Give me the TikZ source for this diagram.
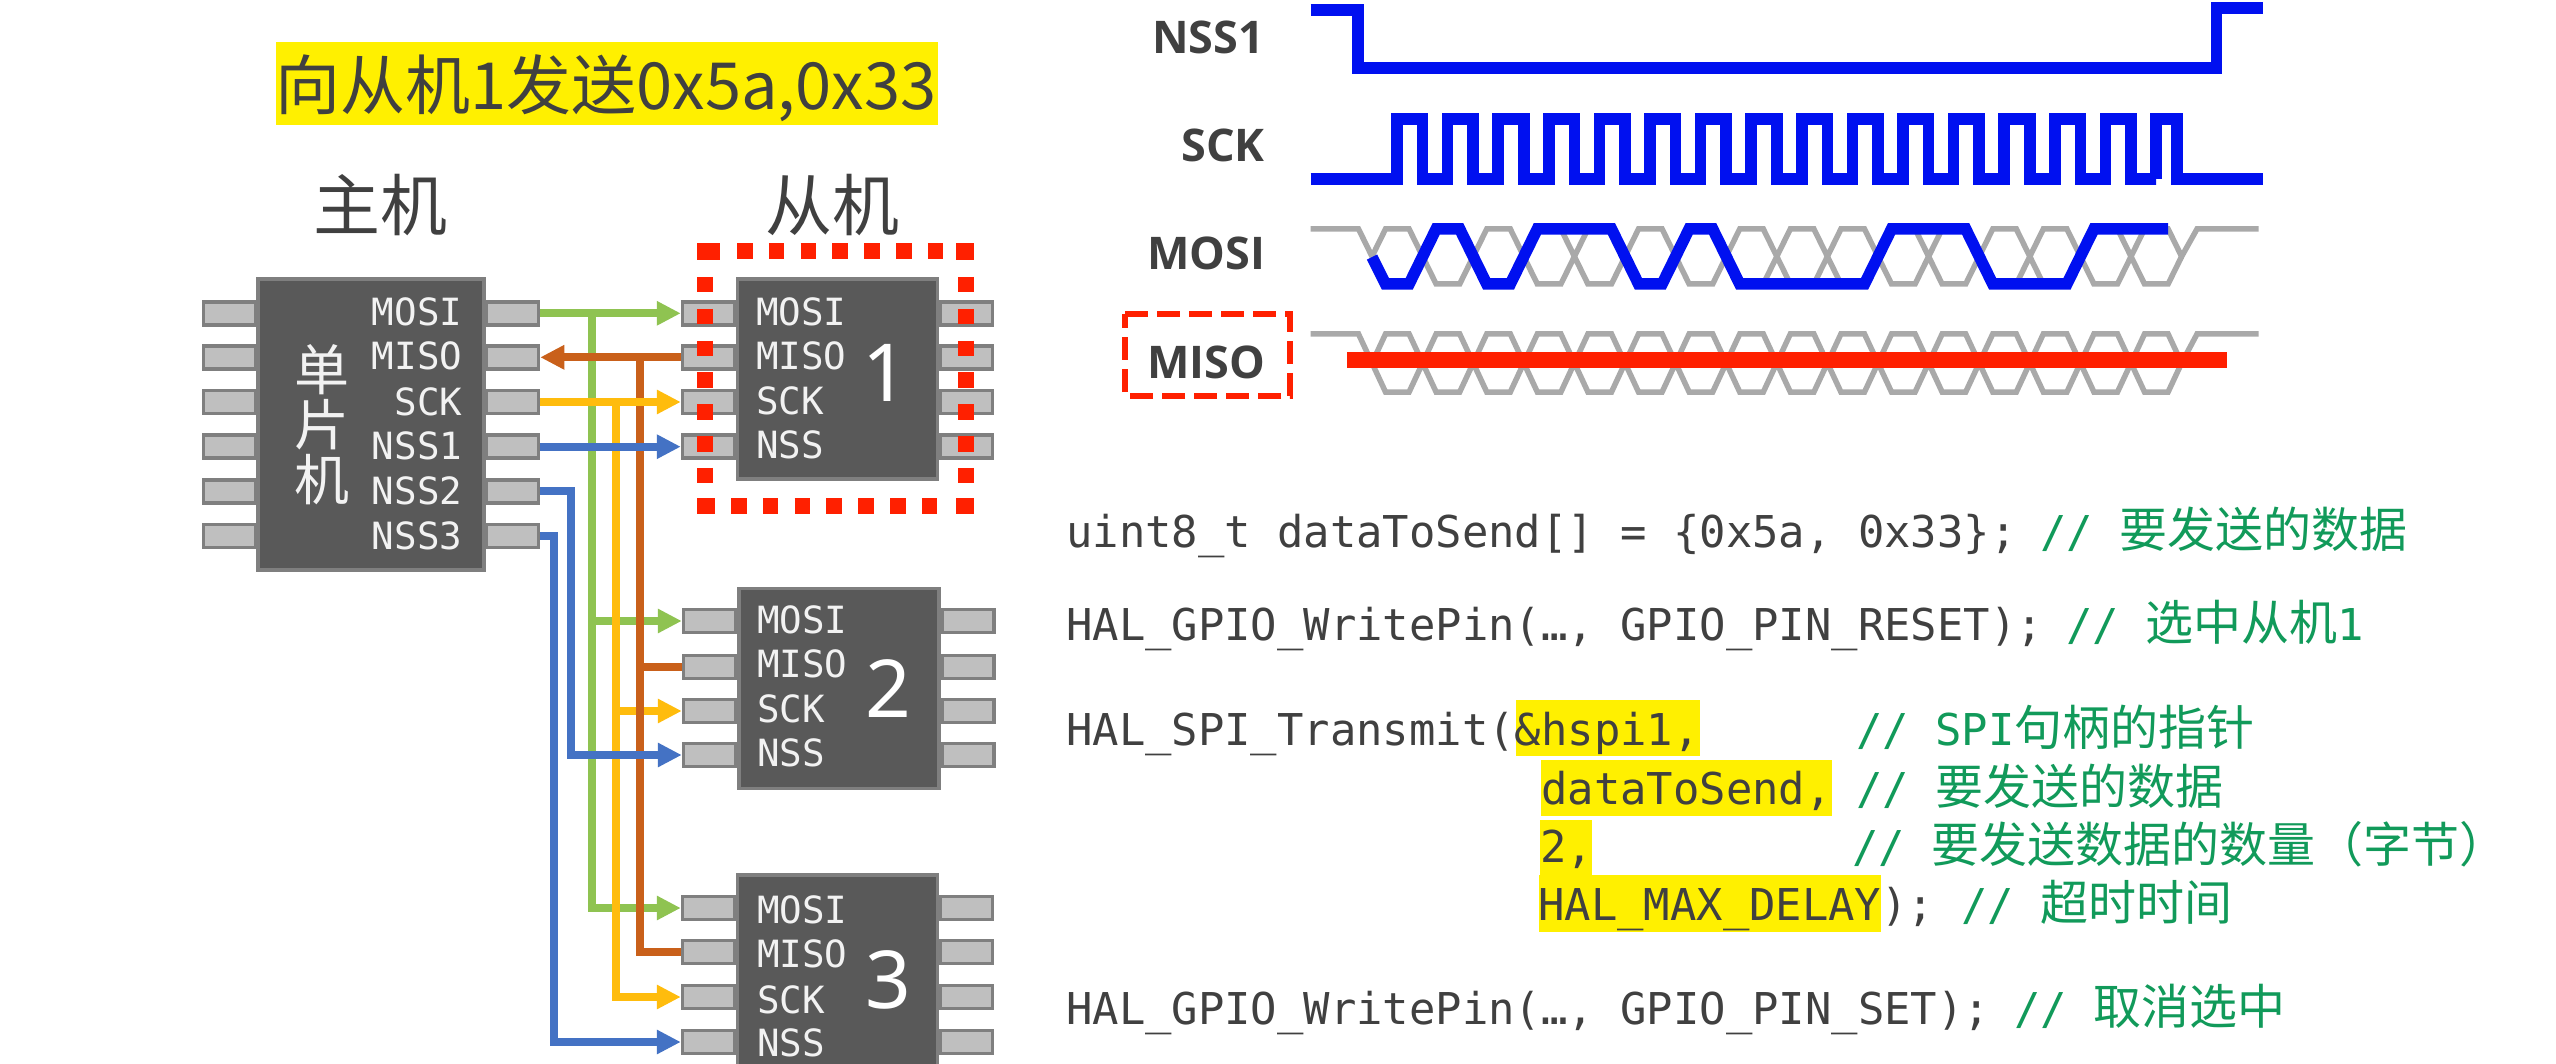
\documentclass[tikz,border=0pt]{standalone}
\usepackage{fontspec}
\usetikzlibrary{arrows.meta}
\setmainfont{Noto Sans}
\newfontfamily\cjkf{Noto Sans CJK SC}
\newfontfamily\monof{DejaVu Sans Mono}
\newfontfamily\labf{Open Sans}
\newcommand\fsz[1]{\fontsize{#1}{#1}\selectfont}
\newcommand\mf{\monof\frenchspacing\fsz{43.85}}
\newcommand\cm[1]{{\cjkf\fsz{48}#1}}
\definecolor{chipfill}{HTML}{595959}
\definecolor{chipline}{HTML}{7F7F7F}
\definecolor{pinfill}{HTML}{BFBFBF}
\definecolor{cgreen}{HTML}{8FC351}
\definecolor{cbrown}{HTML}{C9601A}
\definecolor{cyellow}{HTML}{FFBC0D}
\definecolor{cblue}{HTML}{4472C4}
\definecolor{hl}{HTML}{FFF000}
\definecolor{txt}{HTML}{404040}
\definecolor{cmt}{HTML}{119A5A}
\definecolor{wblue}{HTML}{0010F0}
\definecolor{wgray}{HTML}{A9A9A9}
\definecolor{wred}{HTML}{FF2000}
\tikzset{
  chipbox/.style={draw=chipline,fill=chipfill,line width=3.5pt,inner sep=0pt,minimum width=#1,minimum height=200pt},
  pinbox/.style={draw=chipline,fill=pinfill,line width=3.5pt,inner sep=0pt,minimum width=52pt,minimum height=23pt},
  chiplab/.style={font=\monof\fsz{37.5},text=white!95!black,inner sep=0pt,anchor=base west},
  chiplabr/.style={font=\monof\fsz{37.5},text=white!95!black,inner sep=0pt,anchor=base east},
  chipnum/.style={font=\fsz{80},text=white,inner sep=0pt,anchor=base},
  head/.style={font=\cjkf\fsz{67},text=txt,inner sep=0pt,anchor=base},
  titletext/.style={font=\cjkf\fsz{65},text=txt,inner sep=0pt,anchor=base},
  wavelab/.style={font=\labf\bfseries\fsz{45},text=txt,inner sep=0pt,anchor=base west},
  code/.style={font=\mf,text=txt,inner sep=0pt,anchor=base west},
  note/.style={font=\mf,text=cmt,inner sep=0pt,anchor=base west},
  wire/.style={line width=8pt,line join=miter},
  tip/.style={-{Triangle[length=24pt,width=23pt]}},
  wavebold/.style={draw=wblue,line width=11.5pt,line join=miter,line cap=butt},
  wavethin/.style={draw=wgray,line width=5.5pt,line join=miter},
  hlbox/.style={fill=hl,draw=none},
  selectdash/.style={draw=wred,line width=16pt,dash pattern=on 15.5pt off 16.3pt},
  selectcorner/.style={fill=wred,draw=none},
}
\newcommand\grayrow[3]{%
  \draw[wavethin] (1310.5,#1) -- (1358.5,#1) -- (1372,#3);
  \draw[wavethin] (1372,#3) foreach \k in {0,...,15} {-- ({1385.5+50.6*\k},#1) -- ({1409.1+50.6*\k},#1) -- ({1422.6+50.6*\k},#3)} -- (2197,#1) -- (2258.7,#1);
  \draw[wavethin] (1372,#3) foreach \k in {0,...,15} {-- ({1385.5+50.6*\k},#2) -- ({1409.1+50.6*\k},#2) -- ({1422.6+50.6*\k},#3)};
}
\begin{document}
\begin{tikzpicture}[x=1pt,y=-1pt]
\useasboundingbox (0,0) rectangle (2556,1064);
\clip (0,0) rectangle (2556,1064);
\fill[white] (0,0) rectangle (2556,1064);

% Title and headers
\fill[hlbox] (276,41.7) rectangle (938,125);
\node[titletext] (title) at (606,110) {向从机1发送0x5a,0x33};
\node[head] (hm) at (380.5,231) {主机};
\node[head] (hs) at (832.5,231) {从机};

% Master pins
\foreach \n/\y in {1/313.3,2/357.3,3/402,4/446.7,5/491.3,6/536}{
  \node[pinbox] (ml\n) at (229.5,\y) {};
  \node[pinbox] (mr\n) at (512.5,\y) {};
}
% Slave pins
\foreach \n/\y in {1/313.3,2/357.3,3/402,4/446.7}{
  \node[pinbox] (al\n) at (708.5,\y) {};
  \node[pinbox] (ar\n) at (966.5,\y) {};
}
\foreach \n/\y in {1/621,2/667,3/711,4/755}{
  \node[pinbox] (bl\n) at (709.5,\y) {};
  \node[pinbox] (br\n) at (968,\y) {};
}
\foreach \n/\y in {1/908,2/952,3/997,4/1042}{
  \node[pinbox] (cl\n) at (708.5,\y) {};
  \node[pinbox] (cr\n) at (966.5,\y) {};
}
% Chips
\node[chipbox=226pt,minimum height=291pt] (master) at (371,424.5) {};
\node[chipbox=200pt] (sa) at (837.5,379) {};
\node[chipbox=200pt] (sb) at (839,688.5) {};
\node[chipbox=200pt] (sc) at (837.5,975) {};

% Chip text
\foreach \t/\b in {MOSI/326,MISO/370,SCK/415,NSS1/459.3,NSS2/504,NSS3/549}{
  \node[chiplabr] at (462.5,\b) {\t};
}
\node[font=\cjkf\fsz{55},text=white!95!black,align=center,inner sep=0pt] (mname) at (321.5,425) {\fontsize{55}{56}\selectfont 单\\片\\机};
\foreach \t/\b in {MOSI/325.5,MISO/369.5,SCK/414.5,NSS/458.5}{\node[chiplab] at (756,\b) {\t};}
\foreach \t/\b in {MOSI/633.5,MISO/677.5,SCK/722.5,NSS/766.5}{\node[chiplab] at (757,\b) {\t};}
\foreach \t/\b in {MOSI/923.5,MISO/967.5,SCK/1013,NSS/1056.5}{\node[chiplab] at (757,\b) {\t};}
\node[chipnum] (na) at (885,402) {1};
\node[chipnum] (nb) at (888,717) {2};
\node[chipnum] (nc) at (888,1008) {3};

% Branch points
\coordinate (gv) at (591.5,313.3);
\coordinate (yv) at (615.5,402);
\coordinate (bv) at (640,357.3);
\coordinate (n2) at (571.4,491.3);
\coordinate (n3) at (554,536);

% Connectors
\draw[wire,cblue,tip] (mr6.east) -- (n3) -- (n3 |- cl4.west) -- (cl4.west);
\draw[wire,cgreen,tip] (mr1.east) -- (al1.west);
\draw[wire,cgreen,tip] (gv) |- (bl1.west);
\draw[wire,cgreen,tip] (gv) |- (cl1.west);
\draw[wire,cyellow,tip] (yv) |- (bl3.west);
\draw[wire,cyellow,tip] (yv) |- (cl3.west);
\draw[wire,cbrown] (bv) |- (bl2.west);
\draw[wire,cbrown] (bv) |- (cl2.west);
\draw[wire,cbrown,tip] (al2.west) -- (mr2.east);
\draw[wire,cyellow,tip] (mr3.east) -- (al3.west);
\draw[wire,cblue,tip] (mr4.east) -- (al4.west);
\draw[wire,cblue,tip] (mr5.east) -- (n2) -- (n2 |- bl4.west) -- (bl4.west);

% Red dashed selection around slave 1
\draw[selectdash] (737,251) -- (950,251);
\draw[selectdash] (731,506) -- (945,506);
\draw[selectdash] (705,277) -- (705,490);
\draw[selectdash] (966,277) -- (966,490);
\fill[selectcorner] (697,243) rectangle (720,260);
\fill[selectcorner] (956,243) rectangle (974,260);
\fill[selectcorner] (697,498) rectangle (715,514);
\fill[selectcorner] (956,498) rectangle (974,514);

% Waveform labels
\node[wavelab] (lnss) at (1152,54) {NSS1};
\node[wavelab] (lsck) at (1181,162) {SCK};
\node[wavelab] (lmosi) at (1147,270) {MOSI};
\node[wavelab] (lmiso) at (1147,378) {MISO};
\draw[draw=wred,line width=6pt,dash pattern=on 23pt off 9pt] (1125,314) -- (1290,314) -- (1290,396) -- (1125,396) -- cycle;

% Waveforms
\grayrow{229}{284}{256.5}
\grayrow{334}{392}{363}
\draw[wavebold] (1310.5,10) -- (1358,10) -- (1358,68) -- (2216.6,68) -- (2216.6,8) -- (2262.6,8);
\draw[wavebold] (1310.5,179) -- (1397,179) foreach \k in {0,...,14} {-- ({1397+50.6*\k},119) -- ({1422.6+50.6*\k},119) -- ({1422.6+50.6*\k},179) -- ({1447.6+50.6*\k},179)} -- (2156,179) -- (2156,119) -- (2177,119) -- (2177,179) -- (2262.6,179);
\draw[wavebold] (1372,257) -- (1385.5,284) -- (1409.1,284) -- (1436.1,229) -- (1459.7,229) -- (1486.7,284) -- (1510.3,284) -- (1537.3,229) -- (1611.5,229) -- (1638.5,284) -- (1662.1,284) -- (1689.1,229) -- (1712.7,229) -- (1739.7,284) -- (1864.5,284) -- (1891.5,229) -- (1965.7,229) -- (1992.7,284) -- (2066.9,284) -- (2093.9,229) -- (2168.1,229);
\draw[draw=wred,line width=15.5pt] (1347,360) -- (2227,360);

% Code highlights
\fill[hlbox] (1516,700) rectangle (1700,755.6);
\fill[hlbox] (1541,760) rectangle (1832,816);
\fill[hlbox] (1540,820) rectangle (1592,875);
\fill[hlbox] (1539,875) rectangle (1881,932);

% Code
\node[code] (c1) at (1066,547) {uint8\_t dataToSend[] = \{0x5a, 0x33\};};
\node[code] (c2) at (1066,640) {HAL\_GPIO\_WritePin(…, GPIO\_PIN\_RESET);};
\node[code] (c3) at (1066,745) {HAL\_SPI\_Transmit(\&hspi1,};
\node[code] (c4) at (1541,804) {dataToSend,};
\node[code] (c5) at (1540,862.5) {2,};
\node[code] (c6) at (1538,920) {HAL\_MAX\_DELAY);};
\node[code] (c7) at (1066,1024) {HAL\_GPIO\_WritePin(…, GPIO\_PIN\_SET);};

% Comments
\node[note] (n1) at (2040,547) {// \cm{要发送的数据}};
\node[note] (n2t) at (2066,640) {// \cm{选中从机}1};
\node[note] (n3t) at (1856,745) {// SPI\cm{句柄的指针}};
\node[note] (n4t) at (1856,804) {// \cm{要发送的数据}};
\node[note] (n5t) at (1852,862.5) {// \cm{要发送数据的数量（字节）}};
\node[note] (n6t) at (1961,920) {// \cm{超时时间}};
\node[note] (n7t) at (2014,1024) {// \cm{取消选中}};
\end{tikzpicture}
\end{document}
